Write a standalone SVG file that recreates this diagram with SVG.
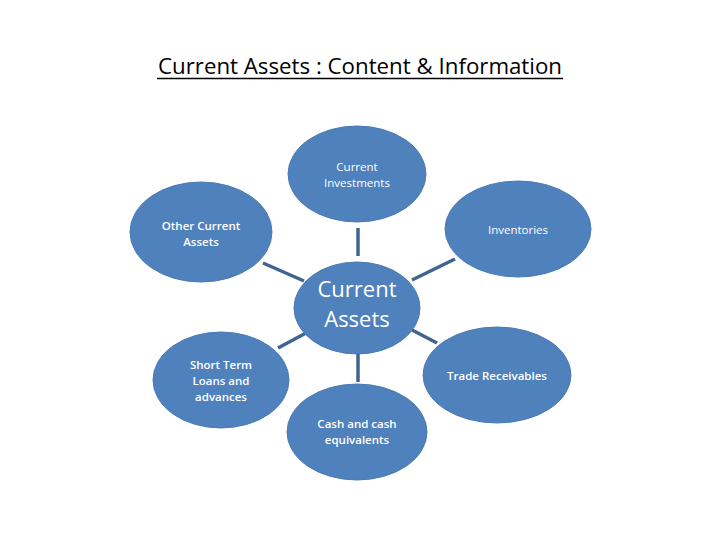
<svg xmlns="http://www.w3.org/2000/svg" width="720" height="540" viewBox="0 0 720 540">
<style>
.node{fill:#4F81BD;stroke:#4A7AB5;stroke-width:1}
.t{fill:#fff;font-family:"Open Sans","Liberation Sans",sans-serif;font-size:11.5px;text-anchor:middle}
.tb{fill:#fff;font-family:"Open Sans","Liberation Sans",sans-serif;font-size:11.5px;font-weight:600;text-anchor:middle}
.big{fill:#fff;font-family:"Open Sans","Liberation Sans",sans-serif;font-size:22px;text-anchor:middle}
.conn line{stroke:#3F6490;stroke-width:3.5}
.title{fill:#000;font-family:"Open Sans","Liberation Sans",sans-serif;font-size:21px;font-weight:500}
</style>
<rect width="720" height="540" fill="#fff"/>
<text class="title" x="158" y="74" textLength="404" lengthAdjust="spacingAndGlyphs">Current Assets : Content &amp; Information</text>
<line x1="157" y1="78.5" x2="563" y2="78.5" stroke="#000" stroke-width="1.5"/>
<g class="conn">
<line x1="358" y1="228" x2="358" y2="256"/>
<line x1="358" y1="352" x2="358" y2="382"/>
<line x1="263" y1="263" x2="304" y2="281"/>
<line x1="412" y1="280" x2="455" y2="259"/>
<line x1="278" y1="348" x2="306" y2="333"/>
<line x1="412" y1="330" x2="437" y2="343"/>
</g>
<g id="current-investments"><ellipse class="node" cx="357" cy="174" rx="69" ry="48"/><text class="t" x="357" y="171">Current</text><text class="t" x="357" y="187">Investments</text></g>
<g id="other-current-assets"><ellipse class="node" cx="201" cy="232" rx="71" ry="50"/><text class="tb" x="201" y="230">Other Current</text><text class="tb" x="201" y="246">Assets</text></g>
<g id="inventories"><ellipse class="node" cx="518" cy="229" rx="73" ry="48"/><text class="t" x="518" y="234">Inventories</text></g>
<g id="current-assets"><ellipse class="node" cx="357" cy="308" rx="63" ry="46"/><text class="big" x="357" y="297">Current</text><text class="big" x="357" y="327">Assets</text></g>
<g id="short-term"><ellipse class="node" cx="221" cy="380" rx="68" ry="48"/><text class="tb" x="221" y="369">Short Term</text><text class="tb" x="221" y="385">Loans and</text><text class="tb" x="221" y="401">advances</text></g>
<g id="trade-receivables"><ellipse class="node" cx="497" cy="375" rx="74" ry="48"/><text class="tb" x="497" y="380">Trade Receivables</text></g>
<g id="cash"><ellipse class="node" cx="357" cy="432" rx="70" ry="48"/><text class="tb" x="357" y="428">Cash and cash</text><text class="tb" x="357" y="444">equivalents</text></g>
</svg>
